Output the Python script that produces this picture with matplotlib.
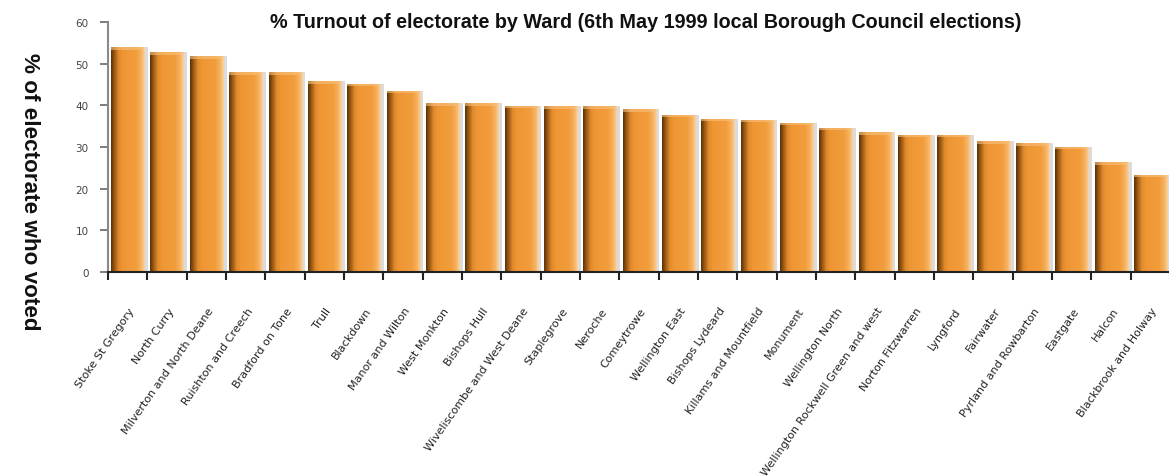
import numpy as np
import matplotlib
matplotlib.use('Agg')
import matplotlib.pyplot as plt
from matplotlib.colors import LinearSegmentedColormap
from matplotlib import transforms

wards = ['Stoke St Gregory', 'North Curry', 'Milverton and North Deane', 'Ruishton and Creech',
         'Bradford on Tone', 'Trull', 'Blackdown', 'Manor and Wilton', 'West Monkton',
         'Bishops Hull', 'Wiveliscombe and West Deane', 'Staplegrove', 'Neroche', 'Comeytrowe',
         'Wellington East', 'Bishops Lydeard', 'Killams and Mountfield', 'Monument',
         'Wellington North', 'Wellington Rockwell Green and west', 'Norton Fitzwarren',
         'Lyngford', 'Fairwater', 'Pyrland and Rowbarton', 'Eastgate', 'Halcon',
         'Blackbrook and Holway']
turnout = [54.0, 52.7, 51.8, 47.9, 47.9, 45.8, 45.2, 43.5, 40.5, 40.5, 39.9, 39.8, 39.8, 39.1,
           37.7, 36.8, 36.6, 35.8, 34.6, 33.6, 32.9, 32.9, 31.4, 30.9, 30.1, 26.4, 23.4]
yticks = [0, 10, 20, 30, 40, 50, 60]

title = '% Turnout of electorate by Ward (6th May 1999 local Borough Council elections)'
ylabel = '% of electorate who voted'

fig = plt.figure(figsize=(11.69, 4.77), dpi=100)
ax = fig.add_axes([0.0924, 0.4277, 0.9085, 0.524])

x = np.arange(len(wards)) + 0.5
w = 0.84

# soft shadow behind the bars
ax.bar(x + 0.1, turnout, width=w, color='#9a9a9a', alpha=0.35, zorder=1, linewidth=0)
bars = ax.bar(x, turnout, width=w, color='none', linewidth=0, zorder=2)

# horizontal shading across each bar (dark left edge -> orange -> pale right edge)
cmap = LinearSegmentedColormap.from_list('barshade', [
    (0.0, '#5e3408'), (0.10, '#9c5a14'), (0.22, '#e08a2c'), (0.35, '#ef9634'),
    (0.75, '#f29d3c'), (0.9, '#f6b261'), (1.0, '#fbd2a0')])
grad = np.linspace(0, 1, 64).reshape(1, -1)
for b in bars:
    x0, y0 = b.get_x(), b.get_y()
    im = ax.imshow(grad, cmap=cmap, aspect='auto', zorder=3,
                   extent=[x0, x0 + b.get_width(), y0, y0 + b.get_height()])
    im.set_clip_path(b)
    # light band along the top of each bar
    ax.bar(b.get_x() + b.get_width() / 2, 0.6, bottom=b.get_height() - 0.6, width=b.get_width(),
           color='#f8c27f', alpha=0.6, linewidth=0, zorder=4)

ax.set_xlim(0, len(wards))
ax.set_ylim(0, 60)

for s in ['top', 'right']:
    ax.spines[s].set_visible(False)
ax.spines['left'].set_color('#8a8a8a')
ax.spines['left'].set_linewidth(1.5)
ax.spines['bottom'].set_color('#222222')
ax.spines['bottom'].set_linewidth(1.5)
ax.spines['bottom'].set_zorder(5)

ax.set_yticks(yticks)
ax.tick_params(axis='y', length=6, width=1.2, color='#666666', labelsize=7.5,
               labelcolor='#444444', pad=8)

# ticks between bars, labels under bar centres
ax.set_xticks(np.arange(len(wards) + 1), minor=True)
ax.set_xticks(x)
ax.set_xticklabels(wards, rotation=55, ha='right', va='top', fontsize=8.0, color='#222222')
ax.tick_params(axis='x', which='major', length=0, pad=24)
ax.tick_params(axis='x', which='minor', length=6, width=1.5, color='#222222')
off = transforms.ScaledTranslation(9 / 100, 0, fig.dpi_scale_trans)
for lab in ax.get_xticklabels():
    lab.set_transform(lab.get_transform() + off)

fig.text(0.552, 0.952, title, ha='center', va='center', fontsize=14.2, fontweight='bold',
         family=['Liberation Sans', 'DejaVu Sans'], color='#111111')
fig.text(0.025, 0.597, ylabel, ha='center', va='center', rotation=-90, fontsize=16.2,
         fontweight='bold', family=['Liberation Sans', 'DejaVu Sans'], color='#111111')

fig.savefig('out.png', dpi=100)
